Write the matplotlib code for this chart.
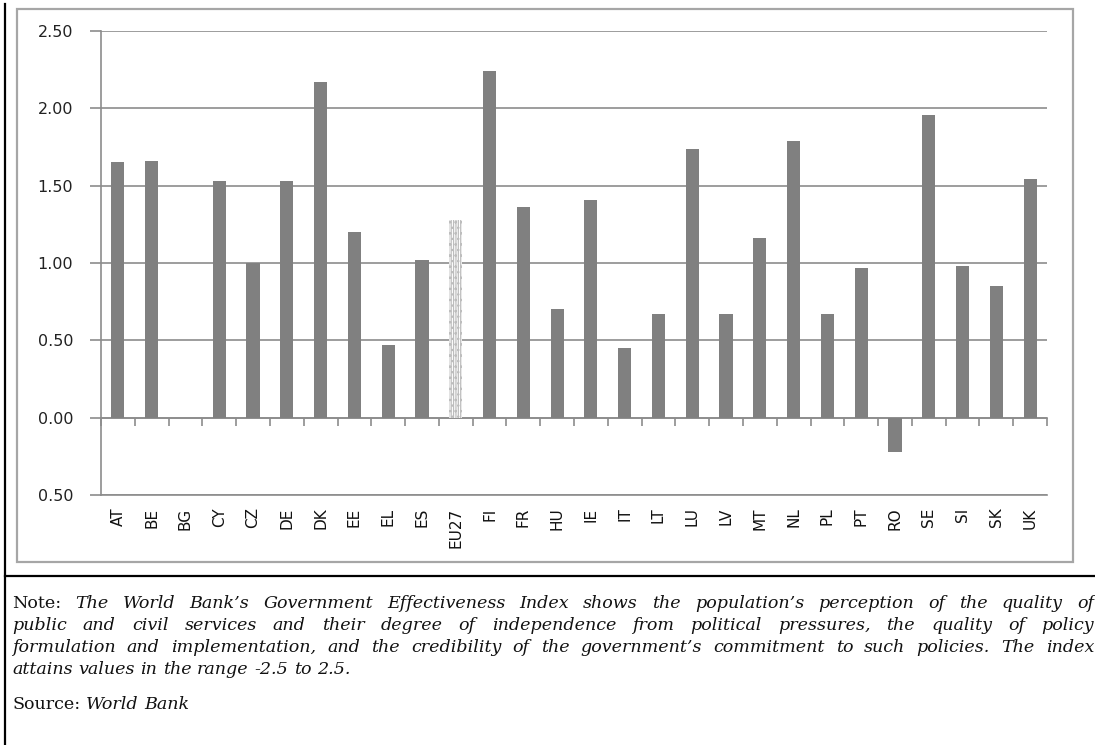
import matplotlib
matplotlib.use("Agg")
import matplotlib.pyplot as plt
import numpy as np
from matplotlib.patches import Rectangle
from matplotlib.lines import Line2D

countries = ["AT", "BE", "BG", "CY", "CZ", "DE", "DK", "EE", "EL", "ES", "EU27",
             "FI", "FR", "HU", "IE", "IT", "LT", "LU", "LV", "MT", "NL", "PL",
             "PT", "RO", "SE", "SI", "SK", "UK"]
values = [1.65, 1.66, 0.0, 1.53, 1.00, 1.53, 2.17, 1.20, 0.47, 1.02, 1.28,
          2.24, 1.36, 0.70, 1.41, 0.45, 0.67, 1.74, 0.67, 1.16, 1.79, 0.67,
          0.97, -0.22, 1.96, 0.98, 0.85, 1.54]
ytick_vals = [-0.5, 0.0, 0.5, 1.0, 1.5, 2.0, 2.5]
ytick_labels = ["0.50", "0.00", "0.50", "1.00", "1.50", "2.00", "2.50"]
highlight = "EU27"

note_lines = [
    "The World Bank\u2019s Government Effectiveness Index shows the population\u2019s perception of the quality of",
    "public and civil services and their degree of independence from political pressures, the quality of policy",
    "formulation and implementation, and the credibility of the government\u2019s commitment to such policies. The index",
    "attains values in the range -2.5 to 2.5.",
]
source_text = "World Bank"

plt.rcParams["hatch.linewidth"] = 0.9

W, H = 1095, 745
fig = plt.figure(figsize=(W / 100, H / 100), dpi=100)
fig.patch.set_facecolor("white")

def fx(px):
    return px / W

def fy(py):
    return 1 - py / H

# frames
fig.add_artist(Line2D([fx(5), fx(5)], [fy(4), fy(745)], color="black", lw=1.6))
fig.add_artist(Line2D([fx(5), fx(1095)], [fy(576), fy(576)], color="black", lw=1.6))
fig.add_artist(Rectangle((fx(17), fy(562)), fx(1073) - fx(17), fy(9) - fy(562),
                         transform=fig.transFigure, fill=False, edgecolor="#a6a6a6", lw=1.6))

left, right, top, bottom = 101, 1047, 31, 495
ax = fig.add_axes([fx(left), fy(bottom), fx(right) - fx(left), fy(top) - fy(bottom)])
x = np.arange(len(countries))
colors = ["white" if c == highlight else "#808080" for c in countries]
bars = ax.bar(x, values, width=0.39, color=colors, zorder=3, lw=0)
for b, c in zip(bars, countries):
    if c == highlight:
        b.set_hatch("|||||||...")
        b.set_edgecolor("#bdbdbd")

ax.set_xlim(-0.5, len(countries) - 0.5)
ax.set_ylim(-0.5, 2.5)
ax.set_yticks(ytick_vals)
ax.set_yticklabels(ytick_labels, fontsize=11.5, color="#222222")
ax.yaxis.grid(True, color="#8c8c8c", lw=1.2, zorder=0)
ax.set_axisbelow(True)
for s in ["top", "right"]:
    ax.spines[s].set_visible(False)
ax.spines["left"].set_color("#8c8c8c")
ax.spines["left"].set_linewidth(1.2)
ax.spines["bottom"].set_color("#8c8c8c")
ax.spines["bottom"].set_linewidth(1.2)
ax.tick_params(axis="y", length=8, color="#8c8c8c", width=1.2, pad=12)

ax.set_xticks(x)
ax.set_xticklabels(countries, rotation=90, fontsize=11, color="#111111")
ax.tick_params(axis="x", length=0, pad=9)

# category axis crossing at zero with boundary ticks
sec = ax.secondary_xaxis(location=(0 - (-0.5)) / 3.0)
sec.set_xticks(np.arange(len(countries) + 1) - 0.5)
sec.set_xticklabels([])
sec.tick_params(axis="x", direction="out", length=6, color="#8c8c8c", width=1.2)
sec.spines["bottom"].set_color("#8c8c8c")
sec.spines["bottom"].set_linewidth(1.2)

# notes (justified)
fig.canvas.draw()
renderer = fig.canvas.get_renderer()
serif = "DejaVu Serif"
fs = 12.6

def width_of(s, st="normal"):
    t = fig.text(0, 0, s, fontsize=fs, family=serif, style=st)
    w = t.get_window_extent(renderer).width
    t.remove()
    return w

space_w = width_of("a a", "italic") - 2 * width_of("a", "italic")

def place_line(words, y_px, justify, x0=12, x1=1094):
    arts = []
    for w, st in words:
        t = fig.text(0, fy(y_px), w, fontsize=fs, family=serif, style=st,
                     va="baseline", ha="left", color="#111111")
        arts.append(t)
    widths = [t.get_window_extent(renderer).width for t in arts]
    total = sum(widths)
    gap = space_w
    if justify and len(arts) > 1:
        gap = max((x1 - x0 - total) / (len(arts) - 1), 0.6 * space_w)
    cur = x0
    for t, w in zip(arts, widths):
        t.set_x(fx(cur))
        cur += w + gap

baselines = [608, 630, 652, 674]
for i, line in enumerate(note_lines):
    words = [(w, "italic") for w in line.split(" ")]
    if i == 0:
        words = [("Note:", "normal")] + words
    place_line(words, baselines[i], justify=(i < 3))

place_line([("Source:", "normal")] + [(w, "italic") for w in source_text.split(" ")], 709, justify=False)

fig.savefig("out.png", dpi=100)
